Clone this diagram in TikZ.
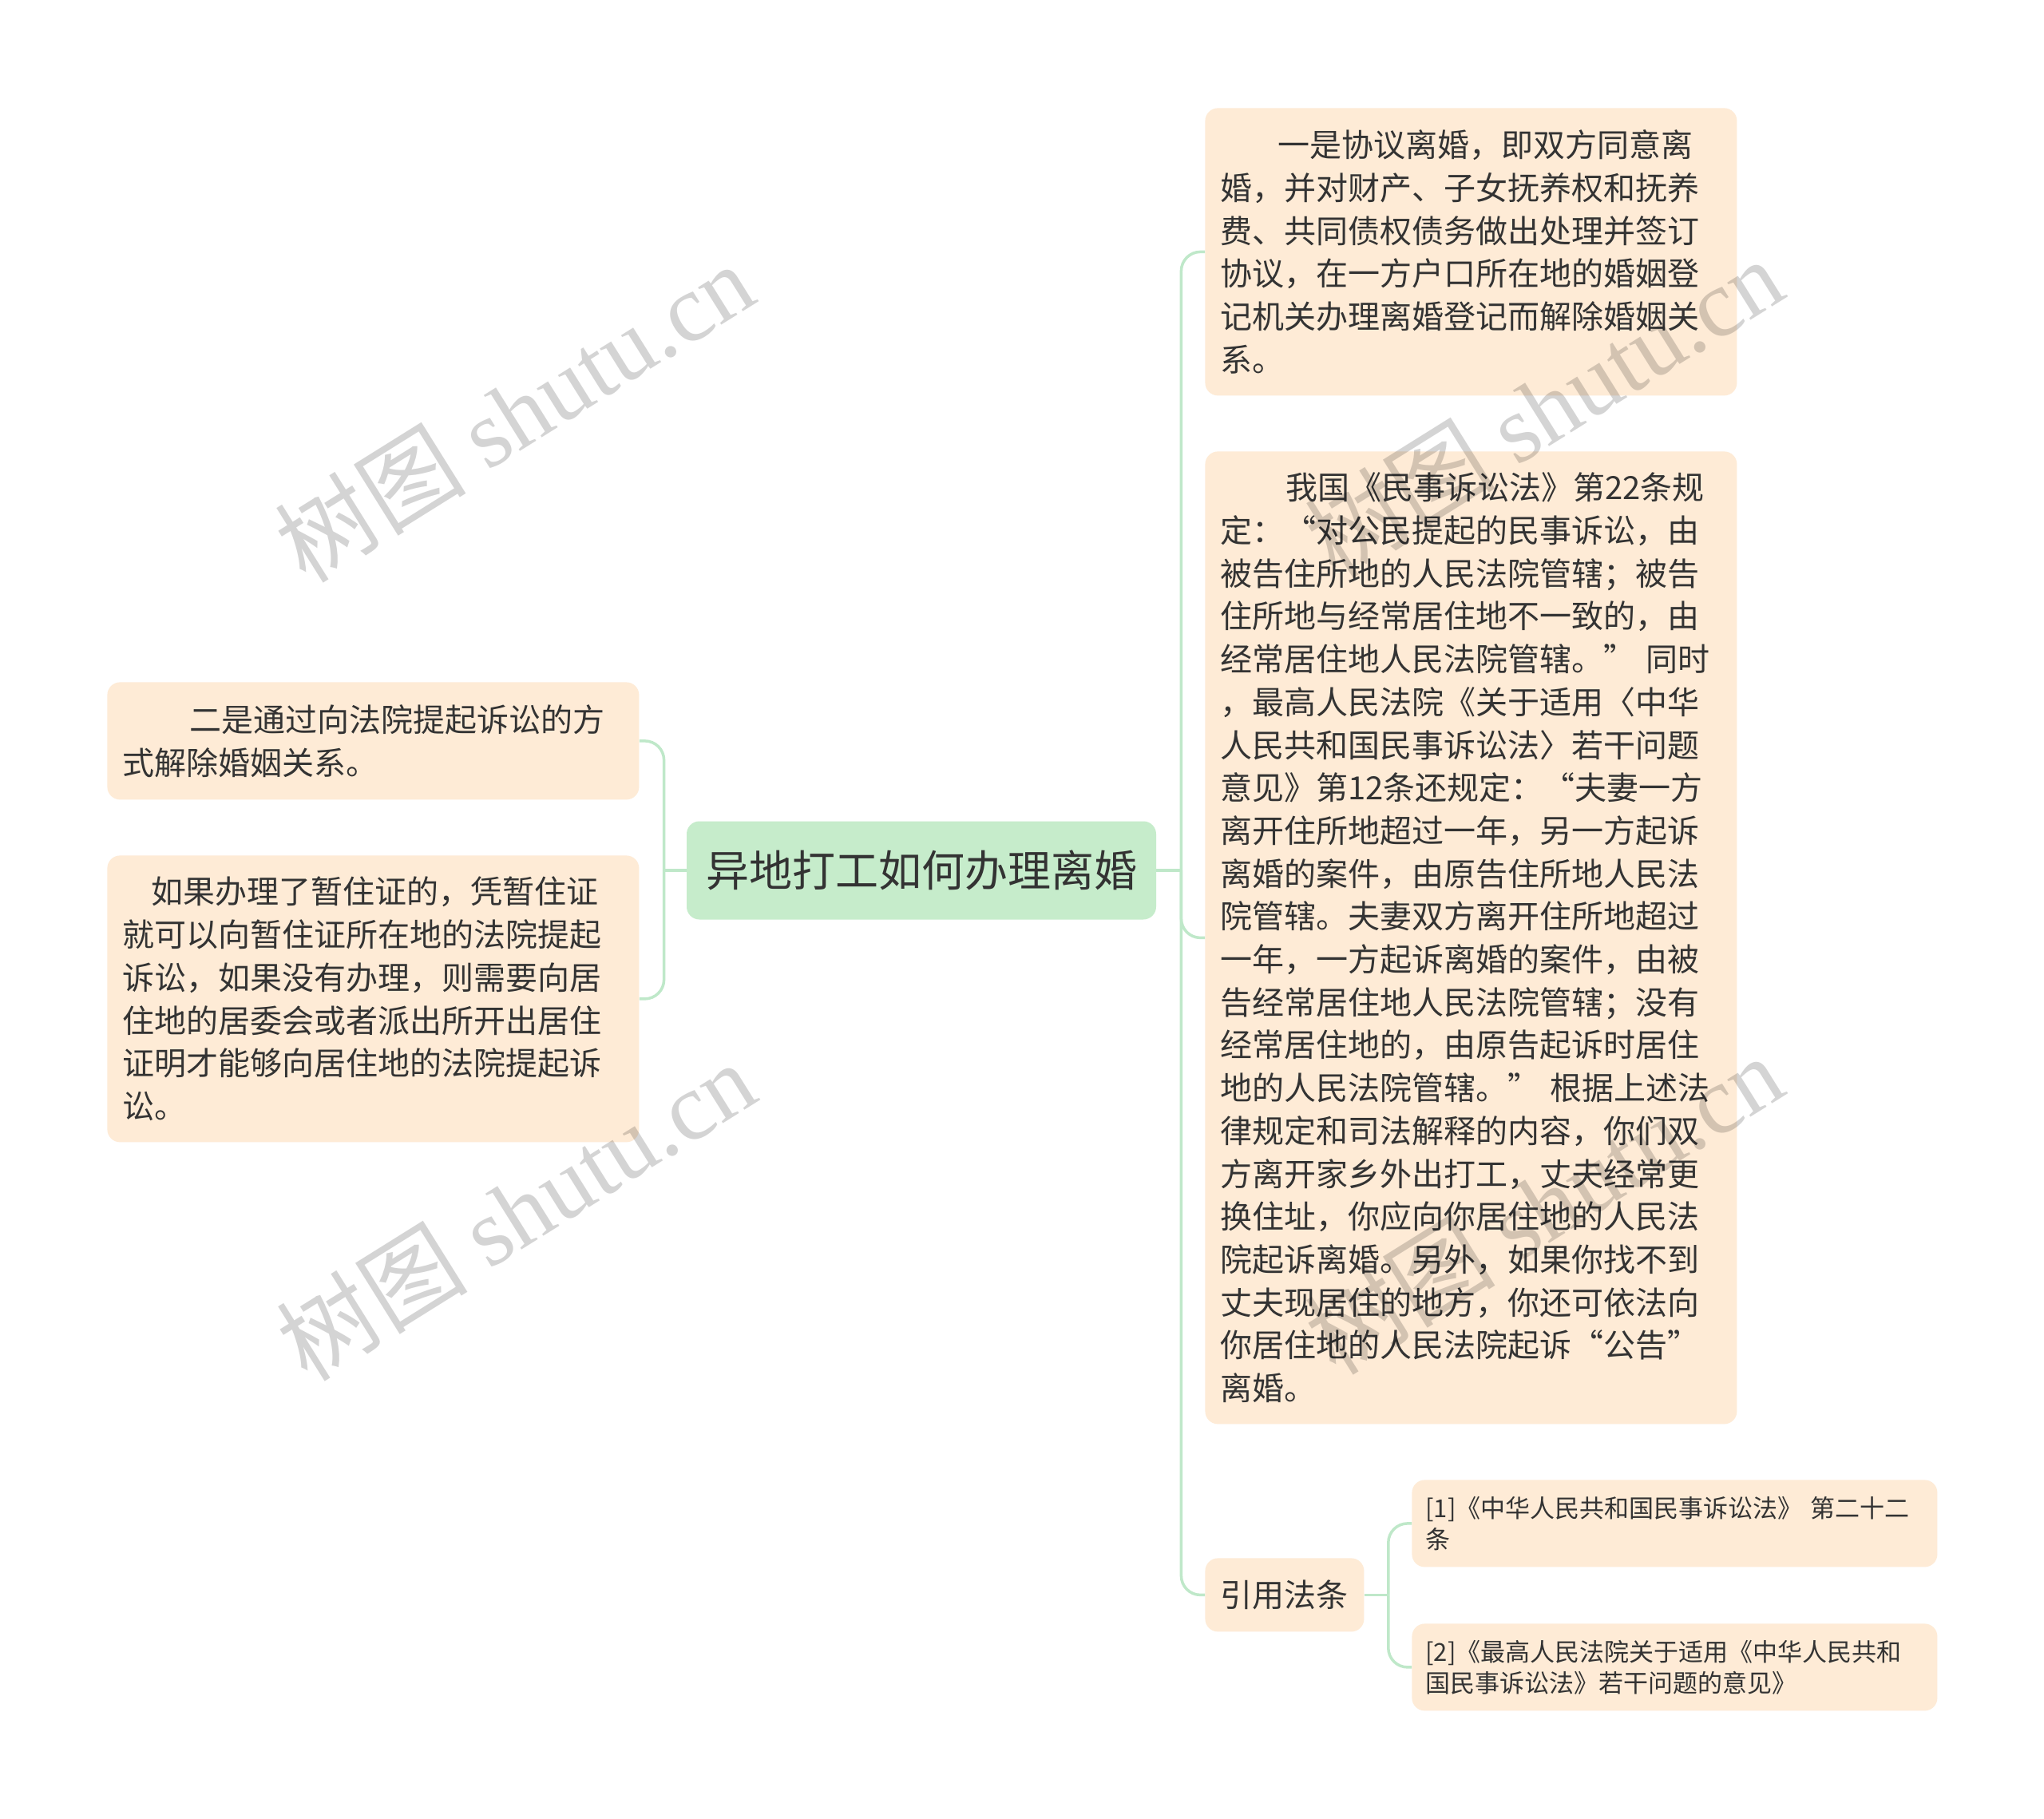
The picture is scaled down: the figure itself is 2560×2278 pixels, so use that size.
\documentclass[tikz,border=0pt]{standalone}
\usepackage{fontspec}
\setmainfont{Noto Sans CJK SC}
\newfontfamily\wmlatin{Liberation Serif}
\usetikzlibrary{calc}
\definecolor{boxfill}{HTML}{FEEBD6}
\definecolor{rootfill}{HTML}{C6ECCB}
\definecolor{linec}{HTML}{BFE8C9}
\definecolor{txt}{HTML}{333333}
\begin{document}
\begin{tikzpicture}[x=0.5pt,y=-0.5pt,
  leaf/.style={fill=boxfill, rounded corners=8pt, anchor=north west, inner xsep=9.5pt, inner ysep=0pt,
    align=left, text=txt, font=\fontsize{20pt}{26.85pt}\selectfont},
  smallleaf/.style={leaf, inner xsep=8.5pt, font=\fontsize{15.5pt}{19.5pt}\selectfont},
  rootnode/.style={fill=rootfill, rounded corners=8pt, minimum width=294pt, minimum height=61.5pt,
    inner sep=0pt, text=txt, font=\fontsize{27pt}{32pt}\selectfont},
  conn/.style={draw=linec, line width=1.75pt},
  wm/.style={text=black, text opacity=0.17, font=\fontsize{60pt}{66pt}\selectfont, inner sep=0pt}
]
\useasboundingbox (0,0) rectangle (2560,2278);
\fill[white] (0,0) rectangle (2560,2278);

% root
\node[rootnode] (root) at (1154,1090) {异地打工如何办理离婚};

% right side
\node[leaf, text width=314pt, minimum height=180pt] (A) at (1509,135) {%
\hspace*{36pt}一是协议离婚，即双方同意离\\
婚，并对财产、子女抚养权和抚养\\
费、共同债权债务做出处理并签订\\
协议，在一方户口所在地的婚姻登\\
记机关办理离婚登记而解除婚姻关\\
系。};

\node[leaf, text width=314pt, minimum height=609pt] (B) at (1509,565) {%
\hspace*{41pt}我国《民事诉讼法》第22条规\\
定：“对公民提起的民事诉讼，由\\
被告住所地的人民法院管辖；被告\\
住所地与经常居住地不一致的，由\\
经常居住地人民法院管辖。” 同时\\
，最高人民法院《关于适用〈中华\\
人民共和国民事诉讼法〉若干问题\\
意见》第12条还规定：“夫妻一方\\
离开住所地超过一年，另一方起诉\\
离婚的案件，由原告住所地人民法\\
院管辖。夫妻双方离开住所地超过\\
一年，一方起诉离婚的案件，由被\\
告经常居住地人民法院管辖；没有\\
经常居住地的，由原告起诉时居住\\
地的人民法院管辖。” 根据上述法\\
律规定和司法解释的内容，你们双\\
方离开家乡外出打工，丈夫经常更\\
换住址，你应向你居住地的人民法\\
院起诉离婚。另外，如果你找不到\\
丈夫现居住的地方，你还可依法向\\
你居住地的人民法院起诉“公告”\\
离婚。};

\node[leaf, text width=80.5pt, minimum height=46pt, align=center] (C) at (1509,1951) {引用法条};

\node[smallleaf, text width=312pt, minimum height=54.5pt] (D) at (1768,1853) {%
[1]《中华人民共和国民事诉讼法》 第二十二\\
条};
\node[smallleaf, text width=312pt, minimum height=54.5pt] (E) at (1768,2033) {%
[2]《最高人民法院关于适用《中华人民共和\\
国民事诉讼法》若干问题的意见》};

% left side
\node[leaf, text width=314pt, minimum height=73.5pt] (L1) at (134,854) {%
\hspace*{42pt}二是通过向法院提起诉讼的方\\
式解除婚姻关系。};
\node[leaf, text width=314pt, minimum height=179.5pt] (L2) at (134,1071) {%
\hspace*{18pt}如果办理了暂住证的，凭暂住证\\
就可以向暂住证所在地的法院提起\\
诉讼，如果没有办理，则需要向居\\
住地的居委会或者派出所开出居住\\
证明才能够向居住地的法院提起诉\\
讼。};

% connectors
\coordinate (rj) at ($(root.east)+(31,0)$);
\coordinate (lj) at ($(root.west)+(-28,0)$);
\coordinate (cj) at ($(C.east)+(30,0)$);
\draw[conn] (root.east) -- (rj);
\draw[conn, rounded corners=12pt] (rj) |- (A.west);
\draw[conn, rounded corners=12pt] (rj) |- (B.west);
\draw[conn, rounded corners=12pt] (rj) |- (C.west);
\draw[conn] (root.west) -- (lj);
\draw[conn, rounded corners=12pt] (lj) |- (L1.east);
\draw[conn, rounded corners=12pt] (lj) |- (L2.east);
\draw[conn] (C.east) -- (cj);
\draw[conn, rounded corners=12pt] (cj) |- (D.west);
\draw[conn, rounded corners=12pt] (cj) |- (E.west);

% watermarks
\node[wm, rotate=32] (w1) at (644,516) {树图 {\wmlatin shutu.cn}};
\node[wm, rotate=32] (w2) at (1933,510) {树图 {\wmlatin shutu.cn}};
\node[wm, rotate=32] (w3) at (646,1516) {树图 {\wmlatin shutu.cn}};
\node[wm, rotate=32] (w4) at (1933,1508) {树图 {\wmlatin shutu.cn}};
\end{tikzpicture}
\end{document}
